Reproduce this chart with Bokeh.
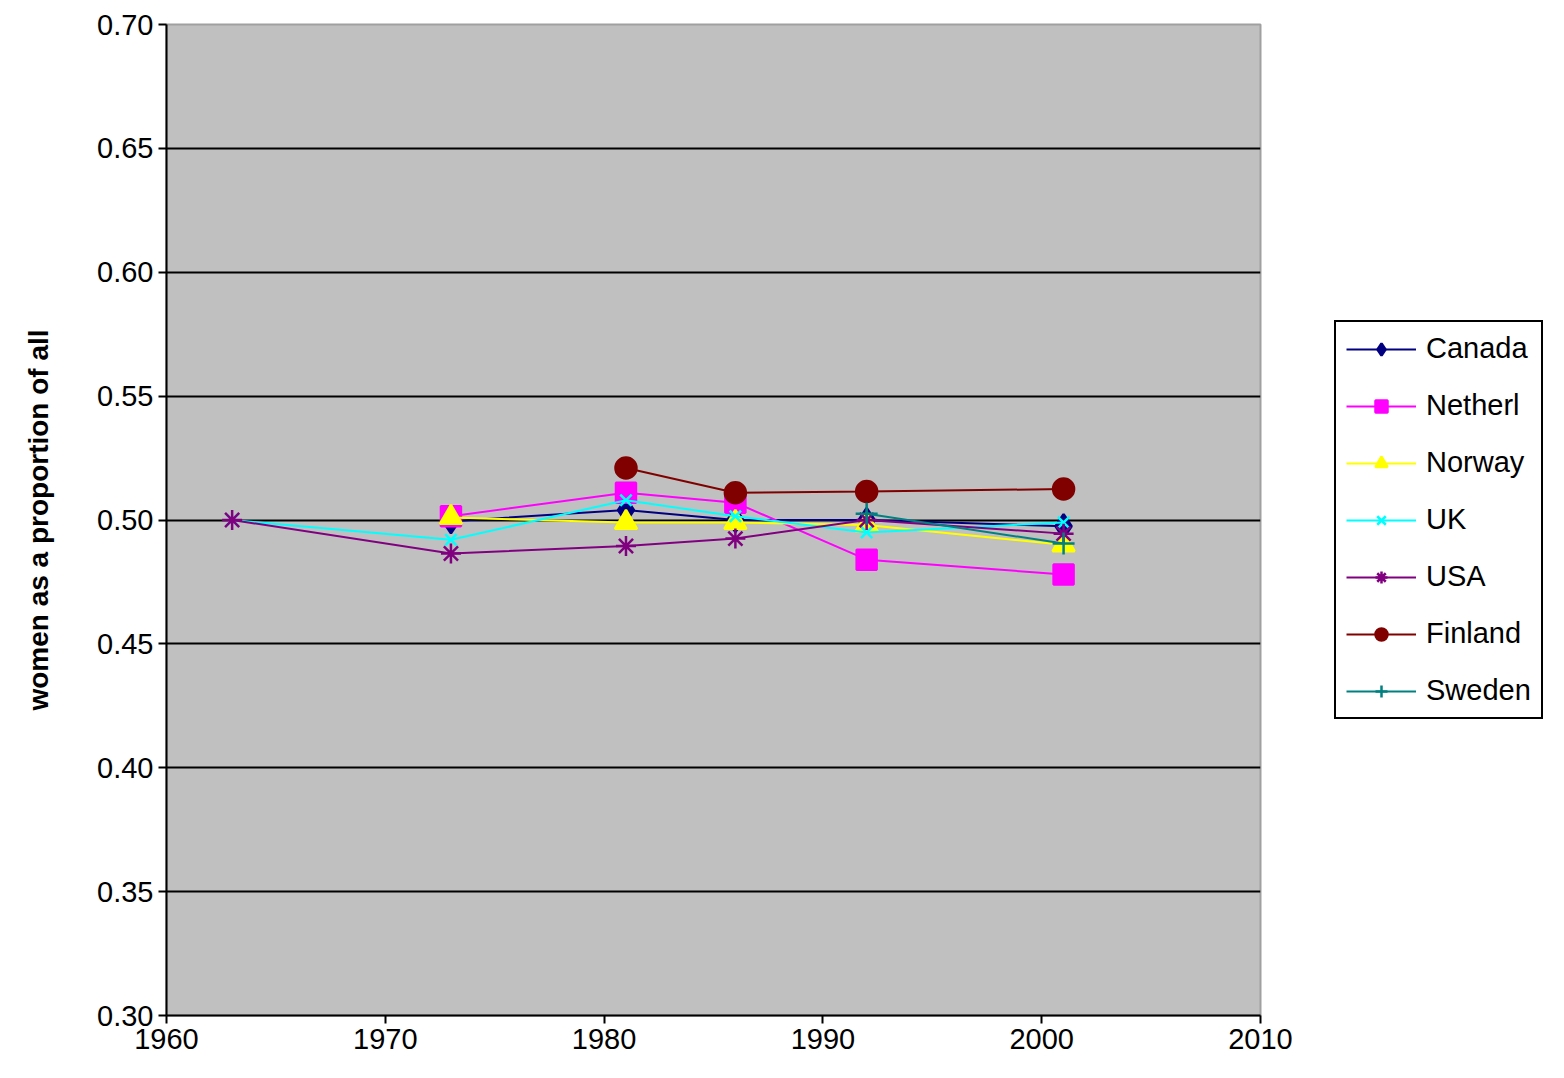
from bokeh.plotting import figure
from bokeh.models import Legend, LegendItem, FixedTicker, NumeralTickFormatter
from bokeh.embed import file_html
from bokeh.resources import INLINE

years_canada = [1973, 1981, 1986, 1992, 2001]
canada = [0.4995, 0.504, 0.500, 0.500, 0.4975]
years_netherl = [1973, 1981, 1986, 1992, 2001]
netherl = [0.5015, 0.511, 0.507, 0.484, 0.478]
years_norway = [1973, 1981, 1986, 1992, 2001]
norway = [0.501, 0.499, 0.499, 0.498, 0.490]
years_uk = [1963, 1973, 1981, 1986, 1992, 2001]
uk = [0.500, 0.492, 0.508, 0.5015, 0.495, 0.499]
years_usa = [1963, 1973, 1981, 1986, 1992, 2001]
usa = [0.500, 0.4865, 0.4895, 0.4925, 0.500, 0.4945]
years_finland = [1981, 1986, 1992, 2001]
finland = [0.521, 0.511, 0.5115, 0.5125]
years_sweden = [1992, 2001]
sweden = [0.5025, 0.4905]

FONT = "Liberation Sans"

p = figure(frame_width=1094, frame_height=991, x_range=(1960, 2010), y_range=(0.30, 0.70),
           output_backend="svg", toolbar_location=None,
           background_fill_color="#C0C0C0", border_fill_color="white",
           min_border_left=166, min_border_top=24, min_border_bottom=46, min_border_right=0)
p.outline_line_color = "#A0A0A0"
p.outline_line_width = 2
p.xgrid.visible = False
p.ygrid.grid_line_color = "black"
p.ygrid.grid_line_width = 2
p.xaxis.ticker = FixedTicker(ticks=list(range(1960, 2011, 10)))
p.yaxis.ticker = FixedTicker(ticks=[0.30 + 0.05 * i for i in range(9)])
p.yaxis.formatter = NumeralTickFormatter(format="0.00")
p.yaxis.axis_label = "women as a proportion of all"
p.yaxis.axis_label_text_font = FONT
p.yaxis.axis_label_text_font_size = "28px"
p.yaxis.axis_label_text_font_style = "bold"
p.yaxis.axis_label_text_color = "black"
p.yaxis.axis_label_standoff = 40
for ax in (p.xaxis[0], p.yaxis[0]):
    ax.major_label_text_font = FONT
    ax.major_label_text_font_size = "29px"
    ax.major_label_text_color = "black"
    ax.axis_line_width = 2
    ax.major_tick_line_width = 2
    ax.major_tick_out = 8
    ax.major_tick_in = 0
    ax.minor_tick_line_color = None

series = [
    ("Canada", years_canada, canada, "#000080", "diamond", 24),
    ("Netherl", years_netherl, netherl, "#FF00FF", "square", 20),
    ("Norway", years_norway, norway, "#FFFF00", "triangle", 22),
    ("UK", years_uk, uk, "#00FFFF", "x", 16),
    ("USA", years_usa, usa, "#800080", "asterisk", 20),
    ("Finland", years_finland, finland, "#800000", "circle", 21),
    ("Sweden", years_sweden, sweden, "#008080", "cross", 22),
]
items = []
for name, xs, ys, col, mk, sz in series:
    r1 = p.line(xs, ys, line_color=col, line_width=2)
    r2 = p.scatter(xs, ys, marker=mk, size=sz, fill_color=col, line_color=col, line_width=2.5)
    items.append(LegendItem(label=name, renderers=[r1, r2]))

legend = Legend(items=items, location=(74, 296), label_text_font=FONT, label_text_font_size="29px",
                label_text_color="black",
                glyph_width=70, glyph_height=30, spacing=24, padding=10, margin=0,
                border_line_color="black", border_line_alpha=1.0, border_line_width=2,
                label_standoff=10)
p.add_layout(legend, "right")

open("out.html", "w").write(file_html(p, INLINE))
